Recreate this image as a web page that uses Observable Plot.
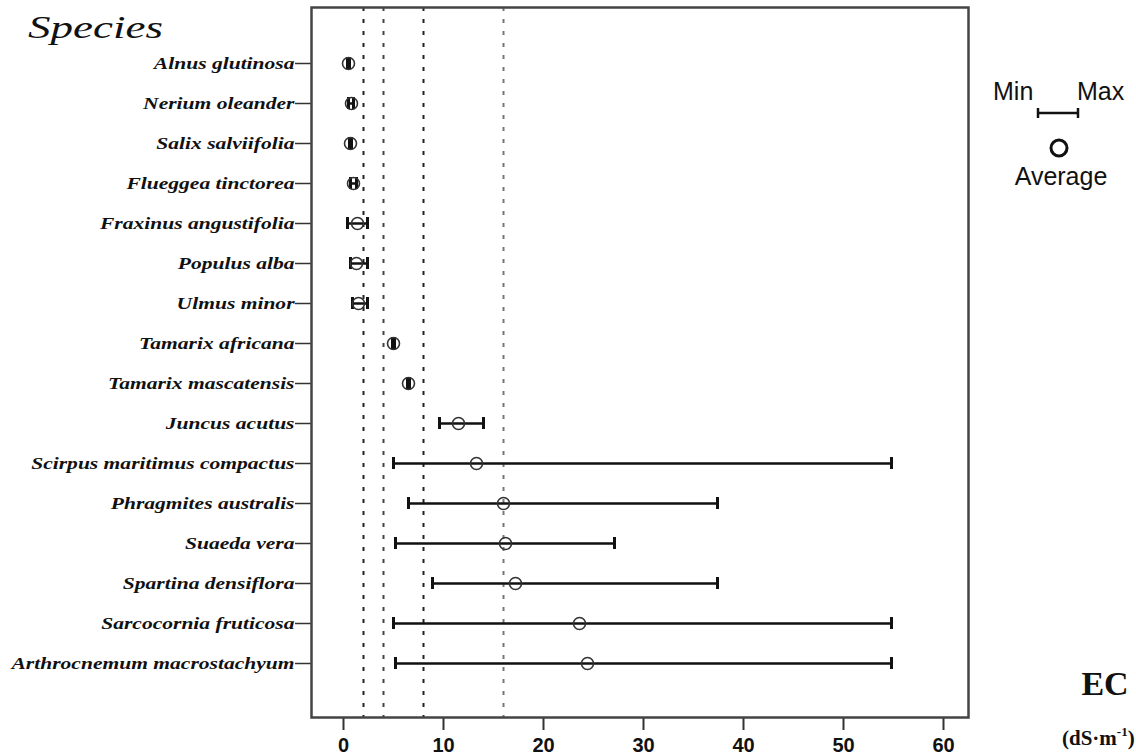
<!DOCTYPE html>
<html>
<head>
<meta charset="utf-8">
<script src="https://cdn.jsdelivr.net/npm/d3@7"></script>
<script src="https://cdn.jsdelivr.net/npm/@observablehq/plot@0.6"></script>
<style>
  html, body { margin: 0; padding: 0; background: #fff; }
  #chart { position: relative; width: 1136px; height: 756px; }
</style>
</head>
<body>
<div id="chart"></div>
<script>
// ---- data ----
const species = [
  "Alnus glutinosa", "Nerium oleander", "Salix salviifolia", "Flueggea tinctorea",
  "Fraxinus angustifolia", "Populus alba", "Ulmus minor", "Tamarix africana",
  "Tamarix mascatensis", "Juncus acutus", "Scirpus maritimus compactus",
  "Phragmites australis", "Suaeda vera", "Spartina densiflora",
  "Sarcocornia fruticosa", "Arthrocnemum macrostachyum"
];
const avgEC = [0.5, 0.8, 0.7, 1.0, 1.4, 1.3, 1.5, 5.0, 6.5, 11.5, 13.3, 16.0, 16.2, 17.2, 23.6, 24.4];
const minEC = [0.4, 0.5, 0.6, 0.7, 0.4, 0.7, 0.9, 4.9, 6.4, 9.6, 5.0, 6.5, 5.2, 8.9, 5.0, 5.2];
const maxEC = [0.6, 1.0, 0.8, 1.3, 2.4, 2.4, 2.4, 5.1, 6.6, 14.0, 54.8, 37.4, 27.1, 37.4, 54.8, 54.8];
const thresholds = [2, 4, 8, 16];
const thresholdColors = ["#222", "#444", "#222", "#777"];
const xTicks = [0, 10, 20, 30, 40, 50, 60];

const rows = species.map((s, i) => ({species: s, avg: avgEC[i], min: minEC[i], max: maxEC[i]}));
const thr = thresholds.map((v, i) => ({v, c: thresholdColors[i]}));

const plot = Plot.plot({
  width: 1136,
  height: 756,
  marginLeft: 311,
  marginRight: 168,
  marginTop: 7,
  marginBottom: 39,
  style: {background: "#fff", color: "#111", fontFamily: "'Liberation Sans', Arial, sans-serif"},
  x: {domain: [-3.2, 62.5], ticks: xTicks, label: null},
  y: {type: "band", domain: species, padding: 0, insetTop: 36, insetBottom: 34, label: null},
  marks: [
    Plot.ruleX(thr, {x: "v", stroke: "c", strokeWidth: 2, strokeDasharray: "4,8"}),
    Plot.ruleY(rows, {y: "species", x1: "min", x2: "max", stroke: "#111", strokeWidth: 2.5}),
    Plot.tickX(rows, {x: "min", y: "species", stroke: "#111", strokeWidth: 3, insetTop: 14, insetBottom: 14}),
    Plot.tickX(rows, {x: "max", y: "species", stroke: "#111", strokeWidth: 3, insetTop: 14, insetBottom: 14}),
    Plot.dot(rows, {x: "avg", y: "species", r: 6, fill: "none", stroke: "#333", strokeWidth: 1.6}),
    Plot.axisX({ticks: xTicks, tickSize: 13, tickPadding: 7, stroke: "#333", strokeWidth: 2, label: null}),
    Plot.axisY({tickSize: 16, tickPadding: 1, stroke: "#333", strokeWidth: 1.5, label: null}),
    Plot.frame({stroke: "#444", strokeWidth: 2.5})
  ]
});

document.getElementById("chart").appendChild(plot);

const svg = d3.select(plot);
// style tick labels
svg.selectAll('[aria-label="x-axis tick label"]')
  .attr("font-family", "'Liberation Sans', Arial, sans-serif")
  .attr("font-weight", "bold")
  .attr("font-size", 20)
  .attr("fill", "#111");
const yLab = svg.selectAll('[aria-label="y-axis tick label"]')
  .attr("font-family", "'Liberation Serif', 'Times New Roman', serif")
  .attr("font-style", "italic")
  .attr("font-weight", "bold")
  .attr("font-size", 17)
  .attr("fill", "#111");
// stretch labels horizontally like the reference's wide serif
const texts = yLab.selectAll("text").nodes();
let maxW = 0;
texts.forEach(t => { maxW = Math.max(maxW, t.getComputedTextLength()); });
const factor = 283 / maxW;
texts.forEach(t => {
  const w = t.getComputedTextLength();
  t.setAttribute("textLength", (w * factor).toFixed(1));
  t.setAttribute("lengthAdjust", "spacingAndGlyphs");
});

// titles / annotations
svg.append("text")
  .attr("x", 28).attr("y", 38)
  .attr("text-anchor", "start")
  .attr("font-family", "'Liberation Serif', 'Times New Roman', serif")
  .attr("font-style", "italic")
  .attr("font-size", 32)
  .attr("fill", "#111")
  .attr("textLength", 135).attr("lengthAdjust", "spacingAndGlyphs")
  .text("Species");

svg.append("text")
  .attr("x", 1105).attr("y", 695)
  .attr("text-anchor", "middle")
  .attr("font-family", "'Liberation Serif', 'Times New Roman', serif")
  .attr("font-weight", "bold")
  .attr("font-size", 34)
  .attr("fill", "#111")
  .text("EC");

const unit = svg.append("text")
  .attr("x", 1062).attr("y", 745)
  .attr("text-anchor", "start")
  .attr("font-family", "'Liberation Serif', 'Times New Roman', serif")
  .attr("font-weight", "bold")
  .attr("font-size", 21)
  .attr("fill", "#111");
unit.append("tspan").text("(dS·m");
unit.append("tspan").attr("dy", -9).attr("font-size", 13).text("-1");
unit.append("tspan").attr("dy", 9).text(")");

// legend
const lg = svg.append("g").attr("font-family", "'Liberation Sans', Arial, sans-serif").attr("fill", "#111");
lg.append("text").attr("x", 993).attr("y", 100).attr("text-anchor", "start").attr("font-size", 25).text("Min");
lg.append("text").attr("x", 1077).attr("y", 100).attr("text-anchor", "start").attr("font-size", 25).text("Max");
lg.append("line").attr("x1", 1038).attr("x2", 1078).attr("y1", 113).attr("y2", 113).attr("stroke", "#111").attr("stroke-width", 2.5);
lg.append("line").attr("x1", 1038).attr("x2", 1038).attr("y1", 108).attr("y2", 118).attr("stroke", "#111").attr("stroke-width", 2.5);
lg.append("line").attr("x1", 1078).attr("x2", 1078).attr("y1", 108).attr("y2", 118).attr("stroke", "#111").attr("stroke-width", 2.5);
lg.append("circle").attr("cx", 1059).attr("cy", 148).attr("r", 8).attr("fill", "none").attr("stroke", "#111").attr("stroke-width", 3);
lg.append("text").attr("x", 1061).attr("y", 185).attr("text-anchor", "middle").attr("font-size", 25).text("Average");
</script>
</body>
</html>
